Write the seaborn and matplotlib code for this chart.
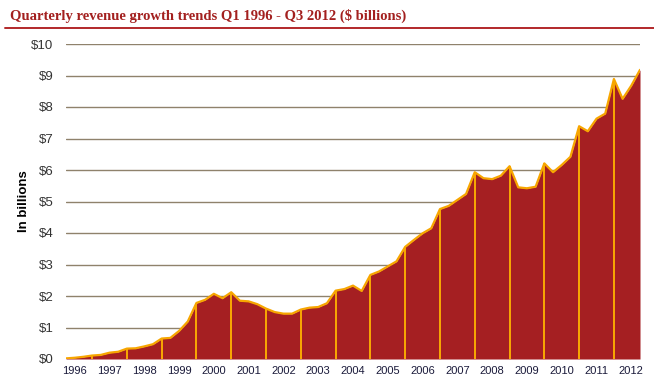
import matplotlib
matplotlib.use("Agg")
import matplotlib.pyplot as plt
from matplotlib.lines import Line2D
import seaborn as sns
import numpy as np
import pandas as pd

# quarterly revenue, $ billions, Q1 1996 .. Q3 2012
revenue = [
    0.02, 0.04, 0.07, 0.11,   # 1996
    0.13, 0.20, 0.23, 0.33,   # 1997
    0.34, 0.40, 0.47, 0.65,   # 1998
    0.67, 0.89, 1.19, 1.78,   # 1999
    1.88, 2.07, 1.93, 2.12,   # 2000
    1.85, 1.83, 1.74, 1.60,   # 2001
    1.49, 1.44, 1.44, 1.57,   # 2002
    1.63, 1.65, 1.77, 2.17,   # 2003
    2.22, 2.33, 2.16, 2.67,   # 2004
    2.78, 2.94, 3.10, 3.56,   # 2005
    3.78, 3.99, 4.15, 4.76,   # 2006
    4.86, 5.05, 5.24, 5.93,   # 2007
    5.74, 5.71, 5.82, 6.12,   # 2008
    5.45, 5.42, 5.47, 6.21,   # 2009
    5.93, 6.16, 6.42, 7.39,   # 2010
    7.23, 7.63, 7.79, 8.89,   # 2011
    8.26, 8.68, 9.18,         # 2012
]
years = list(range(1996, 2013))
y_ticks = list(range(0, 11))
y_labels = ["$" + str(v) for v in y_ticks]

df = pd.DataFrame({"q": np.arange(len(revenue)), "revenue": revenue})
df["quarter"] = df["q"] % 4 + 1

fill_col = "#a51f22"
line_col = "#f7a600"
grid_col = "#8f826c"

sns.set_style("white")
plt.rcParams["font.family"] = ["Liberation Sans", "DejaVu Sans"]

fig = plt.figure(figsize=(6.54, 3.91), dpi=100)
ax = fig.add_axes([66 / 654, 32 / 391, 574 / 654, 315 / 391])

ax.fill_between(df["q"], 0, df["revenue"], color=fill_col, lw=0, zorder=2)
q4 = df[df["quarter"] == 4]
ax.vlines(q4["q"], 0, q4["revenue"], color="#ffb400", lw=1.3, zorder=3)
sns.lineplot(data=df, x="q", y="revenue", color=line_col, lw=1.6, ax=ax, zorder=4)

ax.set_xlim(0, len(revenue) - 1)
ax.set_ylim(0, 10)
ax.set_yticks(y_ticks)
ax.set_yticklabels(y_labels, fontsize=9.5, color="#333333")
ax.set_xticks([4 * i + 1 for i in range(len(years))])
ax.set_xticklabels([str(y) for y in years], fontsize=8, color="#1a1a3a")
ax.tick_params(axis="y", length=0, pad=9)
ax.tick_params(axis="x", length=0, pad=5)
ax.grid(axis="y", color=grid_col, lw=1.0, zorder=1)
ax.grid(axis="x", visible=False)
ax.set_axisbelow(True)
for s in ax.spines.values():
    s.set_visible(False)

ax.set_xlabel("")
ax.set_ylabel("In billions", fontsize=9.5, fontweight="bold", color="black")
ax.yaxis.set_label_coords(-0.062, 0.5)

fig.text(10 / 654, 1 - 16 / 391, "Quarterly revenue growth trends Q1 1996 - Q3 2012 ($ billions)",
         family="Liberation Serif", fontsize=10.5, fontweight="bold", color="#a3201f",
         ha="left", va="center")
fig.add_artist(Line2D([5 / 654, 1], [1 - 28 / 391, 1 - 28 / 391],
                      transform=fig.transFigure, color="#b2282a", lw=1.4))

fig.savefig("out.png", dpi=100)
